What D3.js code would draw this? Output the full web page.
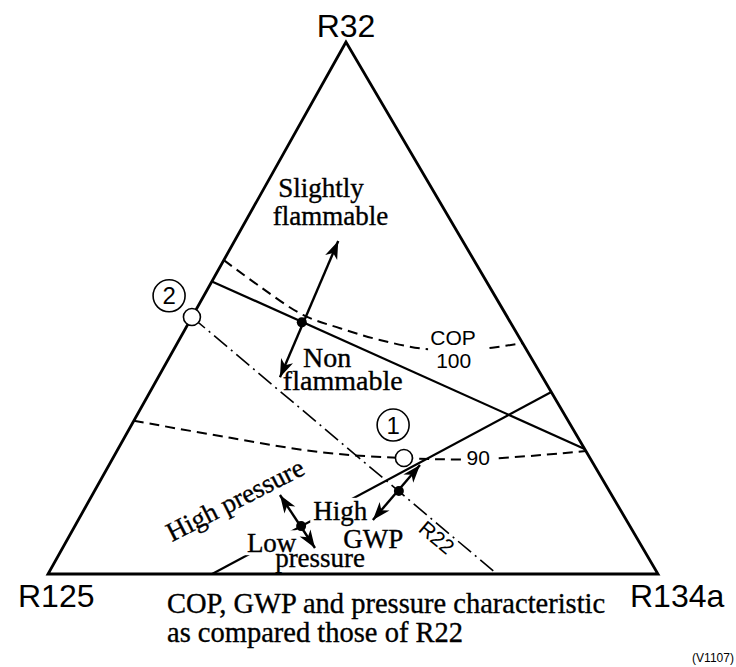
<!DOCTYPE html>
<html>
<head>
<meta charset="utf-8">
<script src="https://cdn.jsdelivr.net/npm/d3@7"></script>
<style>
  html, body { margin: 0; padding: 0; background: #fff; }
  .sans { font-family: "Liberation Sans", Arial, Helvetica, sans-serif; }
  .serif { font-family: "Liberation Serif", "Times New Roman", serif; }
</style>
</head>
<body>
<svg id="chart" width="736" height="667"></svg>
<script>
// Mixture compositions in mass %, written as [R32, R134a]; R125 is the remainder.
const components = ["R32", "R125", "R134a"];
const flammabilityLimit = [[55, 0], [23.5, 76.5]];
const cop100Curve = [[59, 0], [54, 8.4], [48.7, 18], [46.2, 25.3], [44, 32.9], [42.3, 41.1], [42.1, 48.6], [43.4, 56.6]];
const cop90Curve = [[28.8, 0], [25.6, 17.4], [22.9, 33.4], [21.8, 47.7], [21.6, 60.3], [23.1, 76.9]];
const pressureLine = [[0, 26.9], [34.2, 65.8]];
const r22Line = [[48.3, 0], [0, 73.6]];
const copLabels = ["COP", "100", "90"];
const mixtureIds = ["1", "2"];
const mixturePoints = [[21.8, 47.7], [48.3, 0]];
// Trend arrows: reference point on a boundary and the two arrow tips.
const trendNames = ["flammability", "gwp", "pressure"];
const trendPoints = [[47.3, 18.5], [15.6, 49.9], [9.0, 37.1]];
const trendTipsA = [[37.0, 19.95], [10.15, 48.3], [4.89, 41.38]];
const trendTipsB = [[62.6, 17.0], [20.5, 50.97], [14.85, 30.77]];

const svg = d3.select("#chart");

// Ternary projection: R32 sets the height, the left edge moves with it,
// and R134a pushes the point to the right along the row.
const vert = d3.scaleLinear().domain([0, 100]).range([574, 42]);
const leftEdge = d3.scaleLinear().domain([0, 100]).range([48, 346]);
const across = d3.scaleLinear().domain([0, 100]).range([0, 610]);
const px = d => leftEdge(d[0]) + across(d[1]);
const py = d => vert(d[0]);

const corners = [[100, 0], [0, 0], [0, 100]]; // R32, R125, R134a

const line = d3.line().x(px).y(py);
const smooth = d3.line().x(px).y(py).curve(d3.curveCatmullRom.alpha(0.5));

// Arrowhead marker
const defs = svg.append("defs");
defs.append("marker")
  .attr("id", "head")
  .attr("viewBox", "-19 -8 21 16")
  .attr("refX", 0).attr("refY", 0)
  .attr("markerWidth", 21).attr("markerHeight", 16)
  .attr("markerUnits", "userSpaceOnUse")
  .attr("orient", "auto-start-reverse")
  .append("path")
  .attr("d", "M0,0 L-18,-6.5 L-13,0 L-18,6.5 Z")
  .attr("fill", "#000");

// Triangle frame
svg.append("path")
  .attr("d", line(corners) + "Z")
  .attr("fill", "none")
  .attr("stroke", "#000")
  .attr("stroke-width", 2.8)
  .attr("stroke-linejoin", "miter");

// COP contours
svg.append("path").attr("d", smooth(cop100Curve))
  .attr("fill", "none").attr("stroke", "#000").attr("stroke-width", 2)
  .attr("stroke-dasharray", "10,6");
svg.append("path").attr("d", smooth(cop90Curve))
  .attr("fill", "none").attr("stroke", "#000").attr("stroke-width", 2)
  .attr("stroke-dasharray", "10,6");

// Flammability boundary
svg.append("path").attr("d", line(flammabilityLimit))
  .attr("fill", "none").attr("stroke", "#000").attr("stroke-width", 2.2);

// Equal-pressure line
svg.append("path").attr("d", line(pressureLine))
  .attr("fill", "none").attr("stroke", "#000").attr("stroke-width", 2.2);

// Equal-GWP line (R22)
svg.append("path").attr("d", line(r22Line))
  .attr("fill", "none").attr("stroke", "#000").attr("stroke-width", 1.6)
  .attr("stroke-dasharray", "17,5,2,5");

// Label text helper; "gap" lays a white patch behind the glyphs so the
// lines underneath are interrupted around the word
function label(text, pos, cls, size, anchor, opts = {}) {
  const t = svg.append("text")
    .attr("class", cls)
    .attr("x", pos[0]).attr("y", pos[1])
    .attr("font-size", size)
    .attr("text-anchor", anchor || "start")
    .attr("fill", "#000")
    .text(text);
  if (opts.rotate) t.attr("transform", `rotate(${opts.rotate},${pos[0]},${pos[1]})`);
  if (cls === "serif") t.attr("stroke", "#000").attr("stroke-width", 0.35);
  if (opts.gap) {
    const b = t.node().getBBox();
    svg.insert("rect", () => t.node())
      .attr("x", b.x - opts.gap).attr("width", b.width + 2 * opts.gap)
      .attr("y", pos[1] - 0.7 * size - opts.gap)
      .attr("height", 0.7 * size + 2 * opts.gap)
      .attr("fill", "#fff");
  }
  return t;
}
const at = c => [px(c), py(c)];

// COP labels (the white patch opens a gap in the dashed contour)
svg.append("rect")
  .attr("x", px([43.0, 45.4]) - 25).attr("y", py([43.0, 45.4]) - 17)
  .attr("width", 56).attr("height", 42).attr("fill", "#fff");
label(copLabels[0], at([43.0, 45.4]), "sans", 21, "middle");
label(copLabels[1], at([38.7, 47.6]), "sans", 21, "middle");
label(copLabels[2], at([20.5, 60.5]), "sans", 21, "middle", { gap: 4 });

// Region labels
label("Slightly", at([70.9, 3.1]), "serif", 27);
label("flammable", at([65.6, 4.8]), "serif", 27);
label("Non", at([38.9, 22.8]), "serif", 28);
label("flammable", at([34.6, 21.6]), "serif", 28);
label("High pressure", at([6.0, 17.4]), "serif", 27, "start", { rotate: -27 });
label("High", at([10.2, 38.5]), "serif", 27, "start", { gap: 3 });
label("GWP", at([4.9, 46.0]), "serif", 27, "start", { gap: 1 });
label("Low", at([4.1, 30.6]), "serif", 27, "start", { gap: 3 });
label("pressure", at([1.3, 36.6]), "serif", 27);
label("R22", at([5.8, 60.1]), "sans", 21, "middle", { rotate: 40 });

// Trend arrows with their reference dots
trendNames.forEach((name, i) => {
  svg.append("path")
    .attr("class", "trend " + name)
    .attr("d", line([trendTipsA[i], trendTipsB[i]]))
    .attr("fill", "none").attr("stroke", "#000").attr("stroke-width", 2.4)
    .attr("marker-start", "url(#head)").attr("marker-end", "url(#head)");
  svg.append("circle")
    .attr("cx", px(trendPoints[i])).attr("cy", py(trendPoints[i]))
    .attr("r", 5).attr("fill", "#000");
});

// Candidate mixtures
svg.selectAll("circle.mix").data(mixturePoints).join("circle")
  .attr("class", "mix")
  .attr("cx", px).attr("cy", py).attr("r", 8.5)
  .attr("fill", "#fff").attr("stroke", "#000").attr("stroke-width", 1.6);

const tagPos = [[28.0, 42.9], [52.3, -5.7]];
mixtureIds.forEach((id, i) => {
  const p = at(tagPos[i]);
  svg.append("circle").attr("cx", p[0]).attr("cy", p[1]).attr("r", 16)
    .attr("fill", "#fff").attr("stroke", "#000").attr("stroke-width", 1.6);
  label(id, [p[0], p[1] + 8.5], "sans", 24, "middle");
});

// Corner names
const cx = corners.map(px), cy = corners.map(py);
label(components[0], [cx[0], cy[0] - 5], "sans", 32, "middle");
label(components[1], [cx[1] - 30, cy[1] + 33], "sans", 32, "start");
label(components[2], [cx[2] - 28, cy[2] + 33], "sans", 32, "start");

// Caption
label("COP, GWP and pressure characteristic", [167, 613], "serif", 28.5);
label("as compared those of R22", [167, 642], "serif", 28.5);
label("(V1107)", [713, 662], "sans", 12, "middle");
</script>
</body>
</html>
